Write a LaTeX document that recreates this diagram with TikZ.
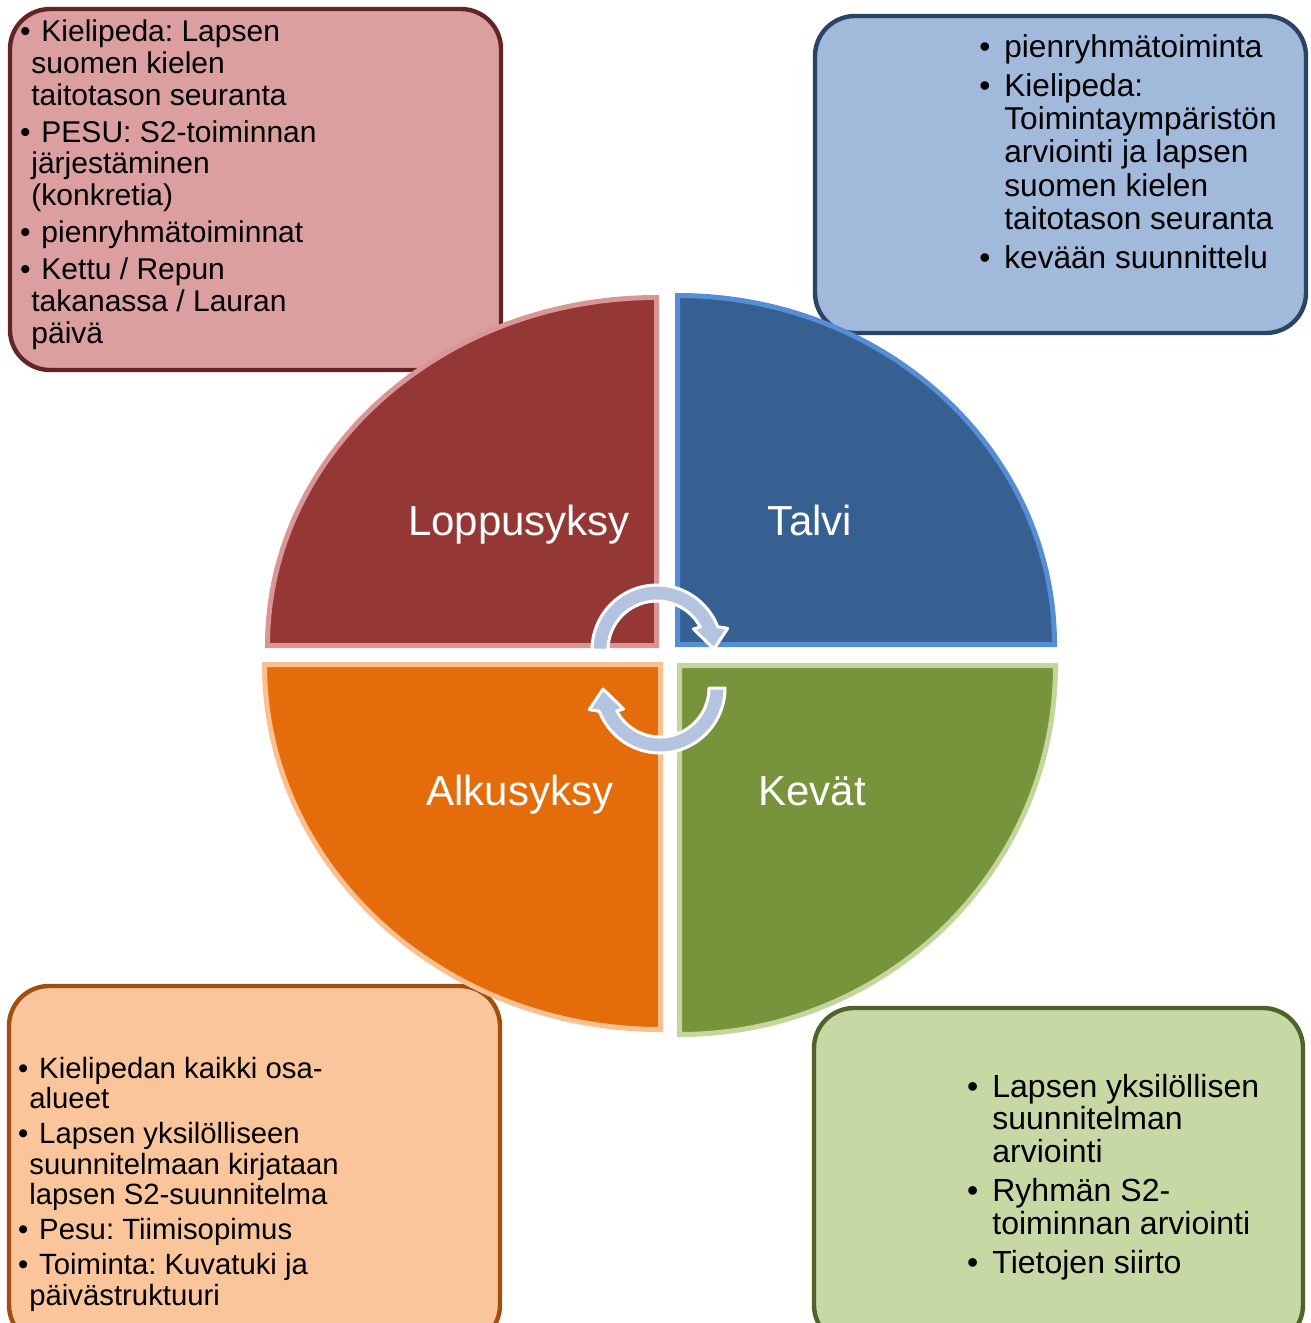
\documentclass[tikz,border=0pt]{standalone}
\usepackage{fontspec}
\setmainfont{Liberation Sans}
\usepackage{xcolor}
\usepackage{tikz}
\frenchspacing

\definecolor{redfill}{HTML}{953735}
\definecolor{redline}{HTML}{D99694}
\definecolor{bluefill}{HTML}{376092}
\definecolor{blueline}{HTML}{558ED5}
\definecolor{orangefill}{HTML}{E46C0A}
\definecolor{orangeline}{HTML}{FAC090}
\definecolor{greenfill}{HTML}{77933C}
\definecolor{greenline}{HTML}{C3D69B}
\definecolor{redbox}{HTML}{DA9F9E}
\definecolor{redboxline}{HTML}{632523}
\definecolor{bluebox}{HTML}{A1B9DA}
\definecolor{blueboxline}{HTML}{2A4466}
\definecolor{orangebox}{HTML}{FAC59A}
\definecolor{orangeboxline}{HTML}{A14E0E}
\definecolor{greenbox}{HTML}{C7D8A4}
\definecolor{greenboxline}{HTML}{4F6228}
\definecolor{arrowfill}{HTML}{B4C4E0}

\newcommand{\fb}{\hspace*{-5.6pt}\textbullet\hspace{5.4pt}}
\newcommand{\hb}{\leavevmode\llap{\textbullet\hspace{7pt}}}

\begin{document}
\begin{tikzpicture}[x=0.5pt, y=-0.5pt,
    box/.style={line width=2.2pt, rounded corners=20pt},
    quarter/.style={line width=2.5pt},
    season/.style={text=white, font=\fontsize{21}{25}\selectfont, anchor=base},
    list/.style={anchor=base west, inner sep=0pt, align=left, text=black},
    turn/.style={fill=arrowfill, draw=white, line width=1.5pt, line join=round}]
  \clip (0,0) rectangle (1311,1323);

  % boxes behind the circle
  \draw[box, fill=redbox, draw=redboxline] (10,9) rectangle (501,370);
  \draw[box, fill=bluebox, draw=blueboxline] (815,16) rectangle (1306,333);
  \draw[box, fill=orangebox, draw=orangeboxline] (9,986) rectangle (500,1345);
  \draw[box, fill=greenbox, draw=greenboxline] (814,1008) rectangle (1303,1345);

  % lists (placed at the baseline of their last line)
  \node[list, font=\fontsize{15}{15.8}\selectfont] (loppuList) at (31,343)
    {\fb Kielipeda: Lapsen\\suomen kielen\\taitotason seuranta\\[2.8pt]\fb PESU: S2-toiminnan\\järjestäminen\\(konkretia)\\[2.8pt]\fb pienryhmätoiminnat\\[2.8pt]\fb Kettu / Repun\\takanassa / Lauran\\päivä};
  \node[list, font=\fontsize{15.8}{16.65}\selectfont] (talviList) at (1004,268)
    {\hb pienryhmätoiminta\\[2.6pt]\hb Kielipeda:\\Toimintaympäristön\\arviointi ja lapsen\\suomen kielen\\taitotason seuranta\\[2.6pt]\hb kevään suunnittelu};
  \node[list, font=\fontsize{14.65}{15.25}\selectfont] (alkuList) at (29,1305)
    {\fb Kielipedan kaikki osa-\\alueet\\[2.25pt]\fb Lapsen yksilölliseen\\suunnitelmaan kirjataan\\lapsen S2-suunnitelma\\[2.25pt]\fb Pesu: Tiimisopimus\\[2.25pt]\fb Toiminta: Kuvatuki ja\\päivästruktuuri};
  \node[list, font=\fontsize{16}{16.4}\selectfont] (kevatList) at (992,1273)
    {\hb Lapsen yksilöllisen\\suunnitelman\\arviointi\\[3pt]\hb Ryhmän S2-\\toiminnan arviointi\\[3pt]\hb Tietojen siirto};

  % the four seasons
  \draw[quarter, fill=redfill, draw=redline] (656.5,645.5) -- ++(-389,0)
    arc[start angle=180, end angle=270, x radius=389, y radius=348] -- cycle;
  \draw[quarter, fill=bluefill, draw=blueline] (677.5,644.5) -- ++(377,0)
    arc[start angle=0, end angle=-90, x radius=377, y radius=349] -- cycle;
  \draw[quarter, fill=orangefill, draw=orangeline] (660.5,664.5) -- ++(-396,0)
    arc[start angle=180, end angle=90, x radius=396, y radius=365] -- cycle;
  \draw[quarter, fill=greenfill, draw=greenline] (679.5,665.5) -- ++(376,0)
    arc[start angle=0, end angle=90, x radius=376, y radius=369] -- cycle;

  \node[season] (loppu) at (519,535) {Loppusyksy};
  \node[season] (talvi) at (810,535) {Talvi};
  \node[season] (alku) at (520,805) {Alkusyksy};
  \node[season] (kevat) at (812,805) {Kevät};

  % turning arrows
  \draw[turn, shift={(657,650)}] (180:65) arc[start angle=180, end angle=339, radius=65]
    -- (343:74) -- (359:57) -- (330:42) -- (332:49)
    arc[start angle=332, end angle=180, radius=49] -- cycle;
  \draw[turn, shift={(660,688)}, rotate=180] (180:65) arc[start angle=180, end angle=339, radius=65]
    -- (343:74) -- (359:57) -- (330:42) -- (332:49)
    arc[start angle=332, end angle=180, radius=49] -- cycle;
\end{tikzpicture}
\end{document}
